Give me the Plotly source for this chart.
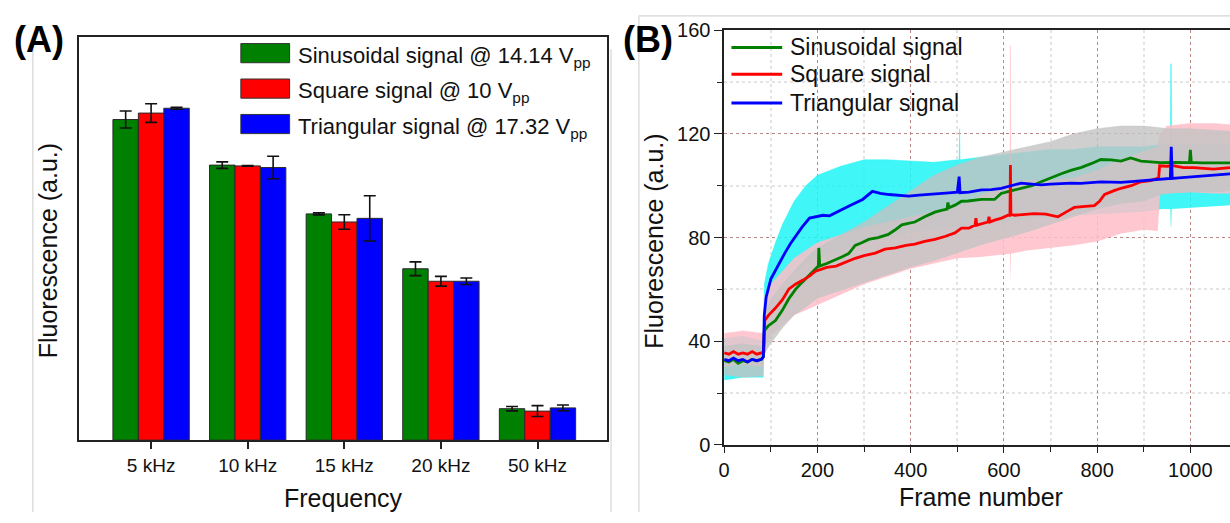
import plotly.graph_objects as go

# ---------------- Panel A data ----------------
freq_labels = ["5 kHz", "10 kHz", "15 kHz", "20 kHz", "50 kHz"]
sin_vals = [79.5, 68.2, 56.1, 42.5, 7.8]
sin_err = [2.1, 0.8, 0.25, 1.7, 0.55]
sq_vals = [81.1, 68.0, 54.1, 39.4, 7.2]
sq_err = [2.3, 0.1, 1.8, 1.2, 1.35]
tri_vals = [82.3, 67.6, 55.0, 39.4, 8.0]
tri_err = [0.25, 2.8, 5.6, 0.8, 0.7]
legend_a = ["Sinusoidal signal @ 14.14 V<sub>pp</sub>",
            "Square signal @ 10 V<sub>pp</sub>",
            "Triangular signal @ 17.32 V<sub>pp</sub>"]

# ---------------- Panel B data ----------------
sin_f = [0, 10, 20, 30, 40, 50, 60, 70, 80, 84, 86, 95, 110, 125, 139, 153, 167, 182, 196, 202, 203, 205,
         220, 238, 252, 267, 281, 295, 310, 330, 352, 367, 381, 395, 409, 430, 452, 466, 478, 480, 482, 495,
         509, 523, 552, 580, 594, 615, 637, 660, 680, 700, 723, 745, 765, 787, 808, 830, 851, 872, 894, 915,
         936, 965, 998, 1000, 1002, 1025, 1050, 1085]
sin_v = [32.5, 32, 33, 31.5, 32.5, 32, 33, 32.5, 33, 34, 44, 46, 48, 52, 56.5, 60, 62.7, 65.5, 68, 69, 76, 69,
         70, 71.3, 72.5, 73.8, 77, 78, 79.3, 80, 81.2, 83, 84.9, 85.5, 86, 88, 89.8, 90.5, 91, 93.5, 91.5, 92.5,
         94, 94.1, 94.7, 94.7, 97, 98, 99, 100, 101.5, 103, 104.6, 106, 107, 108.5, 110.1, 110, 109.5, 110.7,
         109.5, 109.2, 108.9, 109, 108.9, 113.8, 109, 108.8, 108.9, 108.8]

sq_f = [0, 10, 20, 30, 40, 50, 60, 70, 80, 85, 87, 95, 110, 125, 139, 153, 168, 182, 196, 204, 220, 240, 260,
        281, 300, 324, 345, 367, 390, 409, 430, 452, 475, 495, 509, 525, 538, 540, 542, 560, 566, 568, 570,
        580, 595, 609, 613, 614, 615, 623, 645, 665, 690, 716, 735, 751, 775, 794, 805, 816, 835, 851, 873,
        894, 915, 929, 932, 934, 950, 963, 985, 1007, 1030, 1050, 1085]
sq_v = [35.5, 35, 36, 35, 35.5, 35, 36, 35, 35.5, 36, 48, 50, 52.8, 56, 60.2, 62, 63.5, 65, 67, 67.5, 68.5,
        69, 70.5, 72, 73, 74, 75.5, 76, 77, 77.5, 78.5, 79.3, 80.5, 81.8, 83.6, 83.6, 84.8, 87.5, 84.8, 85.5,
        86, 88, 86, 86.7, 87.5, 88.6, 88.6, 108, 89, 88.6, 89, 89.2, 89, 88, 90, 91.6, 92, 92.3, 94, 96.6, 98,
        99, 100, 101.5, 102, 102.7, 103, 107.7, 107.5, 107.7, 107, 107, 106.8, 106.4, 107]

tri_f = [0, 10, 20, 30, 40, 50, 60, 70, 80, 84, 86, 90, 100, 117, 130, 142, 155, 167, 183, 197, 212, 226, 240,
         255, 269, 283, 297, 318, 335, 354, 375, 396, 418, 439, 460, 482, 500, 504, 506, 525, 552, 573, 594,
         615, 637, 660, 680, 700, 723, 745, 765, 787, 808, 830, 851, 873, 894, 915, 936, 957, 959, 961, 975,
         994, 1015, 1036, 1060, 1085]
tri_v = [33, 32.5, 33.5, 32.5, 33, 32, 33, 32.5, 33, 34, 50, 57, 64, 70, 74, 77.6, 81, 84, 87.5, 88, 88.6,
         88.4, 89.8, 91, 92.3, 93.5, 94.7, 97.8, 97, 96.6, 96.3, 96, 96.4, 96.6, 96.8, 97.2, 97.5, 103.5, 97.3,
         97.5, 98.4, 98.5, 99, 100, 101, 100.6, 100.3, 100.6, 100.9, 101, 100.9, 101.2, 101.5, 101.4, 101.3,
         101.6, 101.9, 102.3, 102.7, 102.8, 115, 102.8, 103, 103.3, 103.6, 104, 104.3, 104.6]

# error bands (upper / lower envelopes)
sin_band_f = [0, 40, 84, 86, 100, 125, 150, 175, 200, 250, 300, 350, 400, 450, 500, 550, 600, 650, 700, 750,
              800, 850, 900, 930, 950, 1000, 1050, 1085]
sin_band_lo = [27, 26, 26.5, 35, 39, 45, 50, 53, 56.5, 59.5, 62.5, 65.5, 68.5, 71, 74, 77, 79.5, 82, 85, 88,
               91, 93, 94, 96, 97, 97.5, 97.5, 98]
sin_band_hi = [38, 39, 38, 50, 56, 62, 67, 72, 76, 81, 86, 92, 98, 104, 108, 111, 113, 115, 117, 120, 122,
               123, 123, 122.5, 122, 122, 121.5, 121]

tri_band_f = [0, 40, 84, 86, 95, 110, 125, 150, 175, 200, 250, 300, 350, 400, 450, 500, 504, 505, 506, 550,
              600, 650, 700, 750, 800, 850, 900, 940, 957, 958, 959, 960, 1000, 1050, 1085]
tri_band_hi = [41, 42, 40, 62, 70, 78, 85, 94, 100, 104, 107.5, 110, 110, 109.5, 109, 110, 110, 122, 110, 111,
               112, 113, 114, 114, 115, 115, 115, 116, 116, 147, 147, 116, 116, 116, 116]
tri_band_lo = [25, 26, 26, 40, 50, 58, 62, 66, 70, 72, 75, 78, 80, 82, 83, 84, 84, 84, 84, 85, 86, 87, 88,
               88.5, 89, 89.5, 90, 91, 91, 84, 84, 91, 91.5, 92, 92.5]

sq_band_f = [0, 40, 85, 87, 100, 125, 150, 175, 200, 250, 300, 350, 400, 450, 500, 550, 600, 613, 614, 615,
             650, 700, 750, 800, 850, 900, 930, 935, 950, 1000, 1050, 1085]
sq_band_lo = [30, 31, 30, 38, 42, 46, 50, 52, 54, 58, 62, 65, 68, 70, 72, 72.5, 73.5, 73.8, 62, 73.8, 75, 76,
              77, 78.5, 81.5, 83, 82.5, 97, 97, 97.5, 97, 97]
sq_band_hi = [43, 44, 43, 58, 62, 67, 72, 75, 78, 81, 84, 86, 88, 90, 92, 96, 100, 101, 154, 101, 102, 102,
              103, 106, 110, 113, 115, 120, 123, 124, 124, 123.5]

legend_b = ["Sinusoidal signal", "Square signal", "Triangular signal"]

# ---------------- styles ----------------
W, H = 1230, 523
FONT = "Liberation Sans, Arial, sans-serif"
GREEN, RED, BLUE = "#008000", "#FF0000", "#0000FF"
AXC = "#222222"


def px(x):
    return x / W


def py(y):
    return 1 - y / H


fig = go.Figure()

# Panel A bars
for vals, errs, col, name in [(sin_vals, sin_err, GREEN, legend_a[0]),
                              (sq_vals, sq_err, RED, legend_a[1]),
                              (tri_vals, tri_err, BLUE, legend_a[2])]:
    fig.add_trace(go.Bar(
        x=freq_labels, y=vals, name=name, xaxis="x", yaxis="y",
        marker=dict(color=col, line=dict(color="#2a2a2a", width=1)),
        error_y=dict(type="data", array=errs, color="#111111", thickness=1.6, width=6),
        showlegend=False,
    ))

# Panel B bands: cyan (triangular) -> pink (square) -> gray (sinusoidal)
for bf, lo, hi, fc in [(tri_band_f, tri_band_lo, tri_band_hi, "rgba(30,245,245,0.85)"),
                       (sq_band_f, sq_band_lo, sq_band_hi, "rgba(255,190,200,0.85)"),
                       (sin_band_f, sin_band_lo, sin_band_hi, "rgba(195,195,195,0.8)")]:
    fig.add_trace(go.Scatter(x=bf, y=lo, mode="lines", line=dict(width=0, color=fc),
                             xaxis="x2", yaxis="y2", showlegend=False, hoverinfo="skip"))
    fig.add_trace(go.Scatter(x=bf, y=hi, mode="lines", line=dict(width=0.5, color=fc),
                             fill="tonexty", fillcolor=fc,
                             xaxis="x2", yaxis="y2", showlegend=False, hoverinfo="skip"))

# Panel B mean curves
for f, v, col, name in [(sin_f, sin_v, GREEN, legend_b[0]),
                        (sq_f, sq_v, RED, legend_b[1]),
                        (tri_f, tri_v, BLUE, legend_b[2])]:
    fig.add_trace(go.Scatter(x=f, y=v, mode="lines", name=name, line=dict(color=col, width=2.8),
                             xaxis="x2", yaxis="y2", showlegend=False))

shapes = []
annotations = []

# image borders (faint)
for x0, y0, x1, y1 in [(27, 40, 27, 523), (608, 40, 608, 523), (636, 5, 636, 523), (636, 5, 1230, 5)]:
    shapes.append(dict(type="line", xref="paper", yref="paper", x0=px(x0), y0=py(y0), x1=px(x1), y1=py(y1),
                       line=dict(color="#d4d4d4", width=1.2), layer="below"))

# Panel A legend (manual swatches)
for i, (col, txt) in enumerate(zip([GREEN, RED, BLUE], legend_a)):
    yc = [44, 81, 118][i]
    shapes.append(dict(type="rect", xref="paper", yref="paper", x0=px(236), x1=px(285),
                       y0=py(yc + 10), y1=py(yc - 10), fillcolor=col, line=dict(color="#333333", width=1)))
    annotations.append(dict(text=txt, xref="paper", yref="paper", x=px(291), y=py(yc + 4),
                            xanchor="left", yanchor="middle", showarrow=False,
                            font=dict(family=FONT, size=22, color="#111111")))

# Panel B legend
for i, (col, txt) in enumerate(zip([GREEN, RED, BLUE], legend_b)):
    yc = [38, 66, 96][i]
    shapes.append(dict(type="line", xref="paper", yref="paper", x0=px(729), x1=px(780),
                       y0=py(yc), y1=py(yc), line=dict(color=col, width=3)))
    annotations.append(dict(text=txt, xref="paper", yref="paper", x=px(786), y=py(yc),
                            xanchor="left", yanchor="middle", showarrow=False,
                            font=dict(family=FONT, size=23, color="#111111")))

# panel labels and titles
annotations += [
    dict(text="<b>(A)</b>", xref="paper", yref="paper", x=px(6), y=py(30), xanchor="left", yanchor="middle",
         showarrow=False, font=dict(family=FONT, size=36, color="#000000")),
    dict(text="<b>(B)</b>", xref="paper", yref="paper", x=px(618), y=py(30), xanchor="left", yanchor="middle",
         showarrow=False, font=dict(family=FONT, size=36, color="#000000")),
    dict(text="Fluorescence (a.u.)", xref="paper", yref="paper", x=px(43), y=py(250), textangle=-90,
         xanchor="center", yanchor="middle", showarrow=False, font=dict(family=FONT, size=25, color="#111111")),
    dict(text="Fluorescence (a.u.)", xref="paper", yref="paper", x=px(651), y=py(240), textangle=-90,
         xanchor="center", yanchor="middle", showarrow=False, font=dict(family=FONT, size=25, color="#111111")),
    dict(text="Frequency", xref="paper", yref="paper", x=px(339), y=py(508), xanchor="center",
         yanchor="middle", showarrow=False, font=dict(family=FONT, size=25, color="#111111")),
    dict(text="Frame number", xref="paper", yref="paper", x=px(980), y=py(507), xanchor="center",
         yanchor="middle", showarrow=False, font=dict(family=FONT, size=25, color="#111111")),
]

fig.update_layout(
    width=W, height=H,
    margin=dict(l=0, r=0, t=0, b=0),
    paper_bgcolor="white",
    plot_bgcolor="white",
    barmode="group", bargap=0.21, bargroupgap=0,
    shapes=shapes, annotations=annotations,
    showlegend=False,
    font=dict(family=FONT, color="#111111"),
    xaxis=dict(domain=[px(73), px(604)], anchor="y", type="category", range=[-0.75, 4.72],
               showline=True, linecolor=AXC, linewidth=1.5, mirror=True,
               ticks="outside", ticklen=7, tickwidth=1.5, tickcolor=AXC,
               tickfont=dict(family=FONT, size=19, color="#111111"), showgrid=False),
    yaxis=dict(domain=[py(448), py(27)], anchor="x", range=[0, 100],
               showline=True, linecolor=AXC, linewidth=1.5, mirror=True,
               showticklabels=False, ticks="", showgrid=False, zeroline=False),
    xaxis2=dict(domain=[px(721.7), 1.0], anchor="y2", range=[0, 1085], tick0=0, dtick=200,
                showline=True, linecolor=AXC, linewidth=1.5, mirror=True,
                ticks="outside", ticklen=6, tickwidth=1.3, tickcolor=AXC,
                tickfont=dict(family=FONT, size=20, color="#111111"),
                showgrid=True, gridcolor="#b98585", griddash="dot", gridwidth=1, zeroline=False,
                minor=dict(dtick=100, ticks="outside", ticklen=5, tickcolor=AXC, showgrid=True,
                           gridcolor="#e4e4e4", gridwidth=1.5)),
    yaxis2=dict(domain=[py(453), py(20)], anchor="x2", range=[0, 160], tick0=0, dtick=40,
                showline=True, linecolor=AXC, linewidth=1.5, mirror=False,
                ticks="outside", ticklen=8, tickwidth=1.3, tickcolor=AXC,
                tickfont=dict(family=FONT, size=20, color="#111111"),
                showgrid=True, gridcolor="#b98585", griddash="dot", gridwidth=1, zeroline=False,
                minor=dict(dtick=20, ticks="outside", ticklen=5, tickcolor=AXC, showgrid=True,
                           gridcolor="#e4e4e4", gridwidth=1.5)),
)

fig.write_html("out.html", config={"displayModeBar": False},
               post_script="document.body.style.margin='0';")
